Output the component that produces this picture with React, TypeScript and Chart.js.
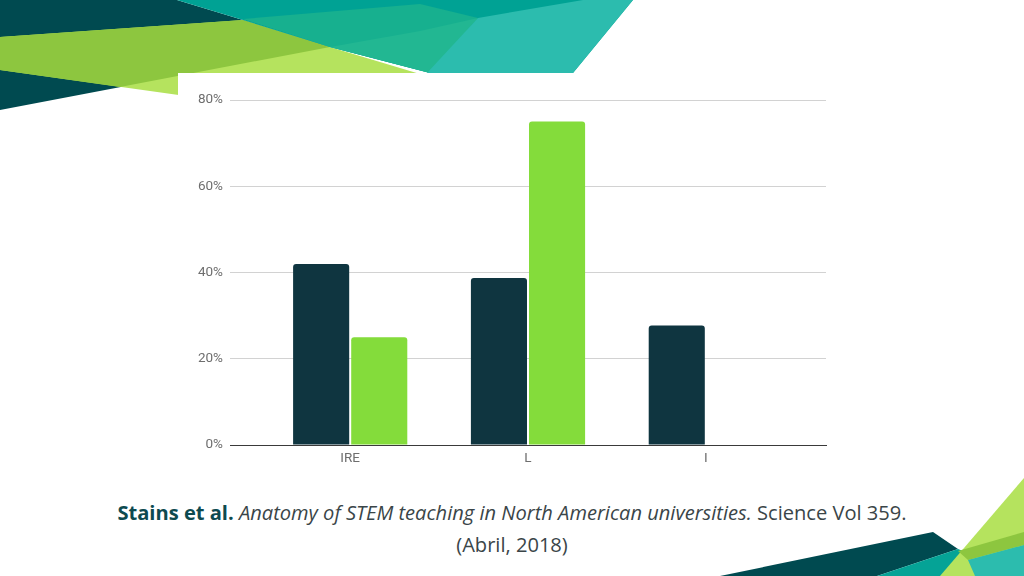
import React, { useEffect, useRef } from "react";
import { Chart, registerables } from "chart.js";

Chart.register(...registerables);

const categories = ["IRE", "L", "I"];
const seriesDark = [42, 38.7, 27.7];
const seriesGreen: (number | null)[] = [25, 75, null];
const yTickValues = [0, 20, 40, 60, 80];
const yTickLabels = ["0%", "20%", "40%", "60%", "80%"];

const DARK = "#0f3540";
const GREEN = "#84dc3b";

function BarChart() {
  const ref = useRef<HTMLCanvasElement>(null);
  useEffect(() => {
    if (!ref.current) return;
    const chart = new Chart(ref.current, {
      type: "bar",
      data: {
        datasets: [
          {
            label: "A",
            data: categories.map((_, i) => ({ x: i, y: seriesDark[i] })) as any,
            backgroundColor: DARK,
            borderWidth: 0,
            borderRadius: 3,
            borderSkipped: "start",
            categoryPercentage: 0.6535,
            barPercentage: 0.9655,
          },
          {
            label: "B",
            data: categories.map((_, i) => ({ x: i, y: seriesGreen[i] })) as any,
            backgroundColor: GREEN,
            borderWidth: 0,
            borderRadius: 3,
            borderSkipped: "start",
            categoryPercentage: 0.6535,
            barPercentage: 0.9655,
          },
        ],
      },
      options: {
        animation: false,
        responsive: false,
        maintainAspectRatio: false,
        layout: { padding: { top: 27, right: 12, left: 0, bottom: 0 } },
        plugins: { legend: { display: false }, tooltip: { enabled: false } },
        scales: {
          x: {
            type: "linear",
            offset: false,
            min: -0.676,
            max: 2.676,
            afterFit: (s: any) => {
              s.height = 28;
            },
            afterBuildTicks: (s: any) => {
              s.ticks = categories.map((_, i) => ({ value: i }));
            },
            grid: { display: false, drawTicks: false },
            border: { display: true, color: "#3a3a3a", width: 1, z: 1 },
            ticks: {
              autoSkip: false,
              padding: 6,
              color: "#6e6e6e",
              font: { family: "Roboto", size: 13.5 },
              callback: (v: any) => categories[Math.round(Number(v))] ?? "",
            },
          },
          y: {
            min: 0,
            max: 80,
            afterFit: (s: any) => {
              s.width = 52;
            },
            afterBuildTicks: (s: any) => {
              s.ticks = yTickValues.map((v) => ({ value: v }));
            },
            grid: {
              drawTicks: false,
              color: (c: any) => (c.tick && c.tick.value === 0 ? "#3a3a3a" : "#d2d2d2"),
              lineWidth: 1,
            },
            border: { display: false },
            ticks: {
              padding: 7,
              color: "#6e6e6e",
              font: { family: "Roboto", size: 13.5 },
              callback: (v: any) => yTickLabels[yTickValues.indexOf(Number(v))] ?? "",
            },
          },
        },
      },
    });
    return () => chart.destroy();
  }, []);
  return (
    <canvas
      ref={ref}
      width={660}
      height={400}
      style={{ position: "absolute", left: 178, top: 73, width: 660, height: 400, background: "#ffffff" }}
    />
  );
}

export default function App() {
  return (
    <div
      style={{
        position: "fixed",
        left: 0,
        top: 0,
        width: 1024,
        height: 576,
        background: "#ffffff",
        overflow: "hidden",
      }}
    >
      <svg width={1024} height={576} style={{ position: "absolute", left: 0, top: 0 }}>
        {/* top-left decoration */}
        <polygon points="0,0 177,0 243,20 330,47 0,110" fill="#004a50" />
        <polygon points="0,37 243,20 330,47 440,80 250,105 0,70" fill="#b5e35e" />
        <polygon points="0,37 243,20 330,47 120,87 0,70" fill="#8dc63f" />
        <polygon points="177,0 633,0 573,73 430,73 330,47 243,20" fill="#00a294" />
        <polygon points="243,19 420,4 478,18 430,73 330,47" fill="#17b08f" />
        <polygon points="330,47 420,31 478,18 430,73" fill="#22b792" />
        <polygon points="478,18 583,0 633,0 573,73 427,73" fill="#2cbcae" />
        {/* bottom-right decoration */}
        <polygon points="720,576 933,532 958,549 877,576" fill="#004a50" />
        <polygon points="877,576 958,549 1024,576" fill="#05a396" />
        <polygon points="1024,478 940,576 1024,576" fill="#b5e35e" />
        <polygon points="958,551 1024,532 1024,545 968,560" fill="#8dc63f" />
        <polygon points="968,560 1024,545 1024,576 975,576" fill="#2cbcae" />
      </svg>
      <BarChart />
      <div
        style={{
          position: "absolute",
          left: 0,
          top: 497,
          width: 1024,
          textAlign: "center",
          fontFamily: "'Open Sans', Lato, sans-serif",
          fontSize: 20.1,
          lineHeight: "32px",
          color: "#3a4548",
        }}
      >
        <span style={{ fontWeight: 700, color: "#0d4a50" }}>Stains et al.</span>{" "}
        <span style={{ fontStyle: "italic" }}>Anatomy of STEM teaching in North American universities.</span>{" "}
        Science Vol 359.
        <br />
        (Abril, 2018)
      </div>
    </div>
  );
}
